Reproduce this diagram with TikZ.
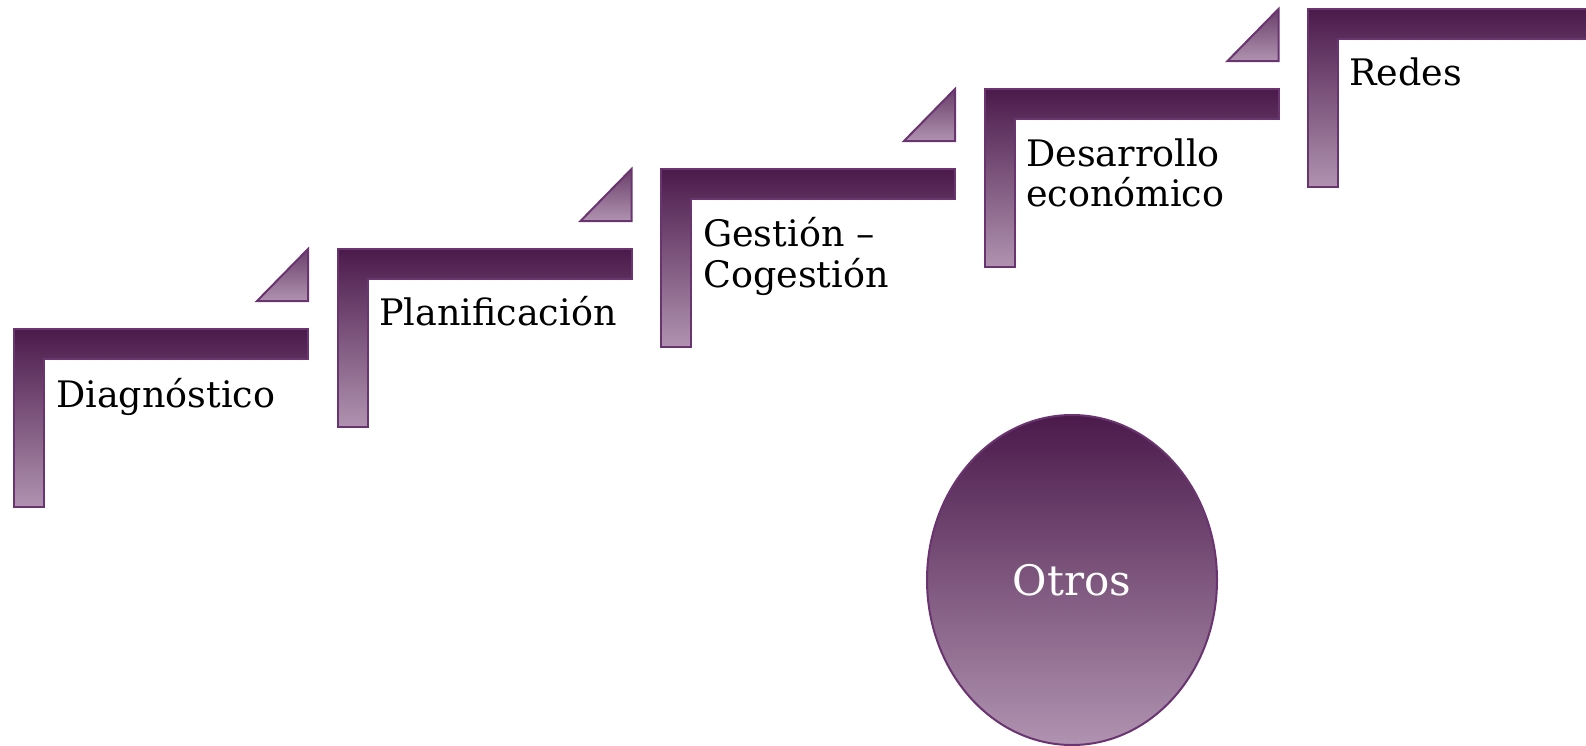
\documentclass[tikz,border=0pt]{standalone}
\usepackage{fontspec}
\setmainfont{DejaVu Serif}
\usetikzlibrary{shapes.geometric}
\definecolor{pdark}{HTML}{4B1A4B}
\definecolor{plight}{HTML}{B093B0}
\definecolor{pline}{HTML}{6A3470}
\begin{document}
\begin{tikzpicture}[x=1pt,y=-1pt,
  stepshape/.style={draw=pline,line width=2pt,line join=miter,top color=pdark,bottom color=plight},
  tri/.style={draw=pline,line width=2pt,line join=miter,top color=pdark!70!plight,bottom color=plight},
  lbl/.style={anchor=base west,inner sep=0pt,font=\fontsize{36.5}{42}\selectfont,text=black},
  oval/.style={ellipse,draw=pline,line width=2pt,top color=pdark,bottom color=plight,minimum width=290pt,minimum height=330pt,inner sep=0pt,font=\fontsize{42}{48}\selectfont,text=white}]
\useasboundingbox (0,0) rectangle (1586,745);
\clip (0,0) rectangle (1586,745);
\foreach \i in {0,...,4}{
  \pgfmathsetmacro{\L}{14+323.5*\i}
  \pgfmathsetmacro{\T}{329-80*\i}
  \draw[stepshape] (\L,\T) -- ++(294,0) -- ++(0,30) -- ++(-264,0) -- ++(0,148) -- ++(-30,0) -- cycle;
  \ifnum\i<4
    \draw[tri] (\L+294,\T-80) -- (\L+294,\T-28) -- (\L+243,\T-28) -- cycle;
  \fi
}
\node[lbl] (d) at (56,407) {Diagnóstico};
\node[lbl] (p) at (379,325) {Planificación};
\node[lbl] (g1) at (703,246) {Gestión –};
\node[lbl] (g2) at (703,287) {Cogestión};
\node[lbl] (e1) at (1026,166) {Desarrollo};
\node[lbl] (e2) at (1026,206) {económico};
\node[lbl] (r) at (1349,85) {Redes};
\node[oval] (o) at (1072,580) {Otros};
\end{tikzpicture}
\end{document}
